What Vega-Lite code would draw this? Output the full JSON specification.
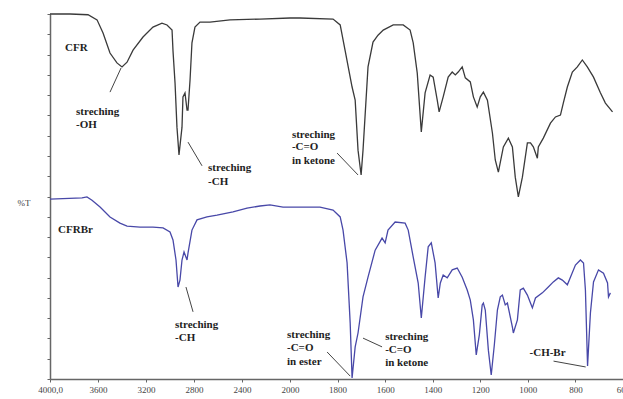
{
  "$schema": "https://vega.github.io/schema/vega-lite/v6.json",
  "width": 573,
  "height": 365,
  "autosize": "none",
  "padding": {"left": 50, "top": 14, "right": 0, "bottom": 20},
  "background": "white",
  "config": {"view": {"stroke": null}},
  "datasets": {
    "spectra": [
      {"wn": 4000, "T": 100, "s": "CFR"}, {"wn": 3833, "T": 100, "s": "CFR"}, {"wn": 3683, "T": 99.8, "s": "CFR"},
      {"wn": 3608, "T": 98.4, "s": "CFR"}, {"wn": 3558, "T": 94.8, "s": "CFR"}, {"wn": 3500, "T": 89.3, "s": "CFR"},
      {"wn": 3442, "T": 86.6, "s": "CFR"}, {"wn": 3400, "T": 85.5, "s": "CFR"}, {"wn": 3358, "T": 86.8, "s": "CFR"},
      {"wn": 3308, "T": 90.1, "s": "CFR"}, {"wn": 3225, "T": 93.7, "s": "CFR"}, {"wn": 3142, "T": 96.4, "s": "CFR"},
      {"wn": 3067, "T": 97.5, "s": "CFR"}, {"wn": 3025, "T": 97.0, "s": "CFR"}, {"wn": 2983, "T": 95.6, "s": "CFR"},
      {"wn": 2975, "T": 89.9, "s": "CFR"}, {"wn": 2958, "T": 81.1, "s": "CFR"}, {"wn": 2942, "T": 69.0, "s": "CFR"},
      {"wn": 2925, "T": 61.4, "s": "CFR"}, {"wn": 2900, "T": 69.0, "s": "CFR"}, {"wn": 2892, "T": 77.3, "s": "CFR"},
      {"wn": 2875, "T": 78.4, "s": "CFR"}, {"wn": 2858, "T": 73.7, "s": "CFR"}, {"wn": 2850, "T": 73.7, "s": "CFR"},
      {"wn": 2833, "T": 81.9, "s": "CFR"}, {"wn": 2817, "T": 92.1, "s": "CFR"}, {"wn": 2792, "T": 96.4, "s": "CFR"},
      {"wn": 2750, "T": 97.8, "s": "CFR"}, {"wn": 2667, "T": 97.8, "s": "CFR"}, {"wn": 2500, "T": 98.4, "s": "CFR"},
      {"wn": 2250, "T": 98.6, "s": "CFR"}, {"wn": 2000, "T": 98.9, "s": "CFR"}, {"wn": 1958, "T": 98.9, "s": "CFR"},
      {"wn": 1819, "T": 98.6, "s": "CFR"}, {"wn": 1789, "T": 97.0, "s": "CFR"}, {"wn": 1768, "T": 89.9, "s": "CFR"},
      {"wn": 1739, "T": 80.0, "s": "CFR"}, {"wn": 1726, "T": 76.4, "s": "CFR"}, {"wn": 1714, "T": 62.7, "s": "CFR"},
      {"wn": 1701, "T": 55.9, "s": "CFR"}, {"wn": 1693, "T": 62.7, "s": "CFR"}, {"wn": 1672, "T": 85.5, "s": "CFR"},
      {"wn": 1651, "T": 92.3, "s": "CFR"}, {"wn": 1630, "T": 94.2, "s": "CFR"}, {"wn": 1608, "T": 95.6, "s": "CFR"},
      {"wn": 1566, "T": 97.0, "s": "CFR"}, {"wn": 1524, "T": 97.0, "s": "CFR"}, {"wn": 1495, "T": 95.6, "s": "CFR"},
      {"wn": 1482, "T": 92.1, "s": "CFR"}, {"wn": 1465, "T": 83.8, "s": "CFR"}, {"wn": 1448, "T": 67.7, "s": "CFR"},
      {"wn": 1432, "T": 78.4, "s": "CFR"}, {"wn": 1411, "T": 83.3, "s": "CFR"}, {"wn": 1398, "T": 82.7, "s": "CFR"},
      {"wn": 1381, "T": 76.4, "s": "CFR"}, {"wn": 1373, "T": 73.2, "s": "CFR"}, {"wn": 1356, "T": 77.3, "s": "CFR"},
      {"wn": 1335, "T": 82.7, "s": "CFR"}, {"wn": 1318, "T": 84.1, "s": "CFR"}, {"wn": 1305, "T": 83.3, "s": "CFR"},
      {"wn": 1293, "T": 84.1, "s": "CFR"}, {"wn": 1276, "T": 85.5, "s": "CFR"}, {"wn": 1263, "T": 82.5, "s": "CFR"},
      {"wn": 1242, "T": 81.4, "s": "CFR"}, {"wn": 1229, "T": 77.3, "s": "CFR"}, {"wn": 1213, "T": 74.5, "s": "CFR"},
      {"wn": 1200, "T": 77.3, "s": "CFR"}, {"wn": 1187, "T": 78.6, "s": "CFR"}, {"wn": 1170, "T": 76.4, "s": "CFR"},
      {"wn": 1149, "T": 67.4, "s": "CFR"}, {"wn": 1137, "T": 60.0, "s": "CFR"}, {"wn": 1124, "T": 56.7, "s": "CFR"},
      {"wn": 1103, "T": 63.6, "s": "CFR"}, {"wn": 1082, "T": 66.0, "s": "CFR"}, {"wn": 1065, "T": 63.6, "s": "CFR"},
      {"wn": 1053, "T": 55.3, "s": "CFR"}, {"wn": 1040, "T": 49.9, "s": "CFR"}, {"wn": 1023, "T": 55.3, "s": "CFR"},
      {"wn": 1002, "T": 64.7, "s": "CFR"}, {"wn": 989, "T": 64.7, "s": "CFR"}, {"wn": 977, "T": 63.6, "s": "CFR"},
      {"wn": 960, "T": 60.5, "s": "CFR"}, {"wn": 956, "T": 63.6, "s": "CFR"}, {"wn": 935, "T": 66.0, "s": "CFR"},
      {"wn": 905, "T": 70.1, "s": "CFR"}, {"wn": 884, "T": 71.8, "s": "CFR"}, {"wn": 863, "T": 72.3, "s": "CFR"},
      {"wn": 851, "T": 75.6, "s": "CFR"}, {"wn": 834, "T": 80.0, "s": "CFR"}, {"wn": 813, "T": 84.1, "s": "CFR"},
      {"wn": 792, "T": 85.5, "s": "CFR"}, {"wn": 771, "T": 87.4, "s": "CFR"}, {"wn": 750, "T": 85.5, "s": "CFR"},
      {"wn": 724, "T": 82.7, "s": "CFR"}, {"wn": 695, "T": 78.4, "s": "CFR"}, {"wn": 674, "T": 75.6, "s": "CFR"},
      {"wn": 644, "T": 73.2, "s": "CFR"},

      {"wn": 4000, "T": 49.3, "s": "CFRBr"}, {"wn": 3733, "T": 49.6, "s": "CFRBr"}, {"wn": 3692, "T": 49.9, "s": "CFRBr"},
      {"wn": 3650, "T": 49.0, "s": "CFRBr"}, {"wn": 3583, "T": 47.1, "s": "CFRBr"}, {"wn": 3500, "T": 44.4, "s": "CFRBr"},
      {"wn": 3417, "T": 42.7, "s": "CFRBr"}, {"wn": 3358, "T": 41.9, "s": "CFRBr"}, {"wn": 3250, "T": 41.6, "s": "CFRBr"},
      {"wn": 3142, "T": 41.6, "s": "CFRBr"}, {"wn": 3058, "T": 41.4, "s": "CFRBr"}, {"wn": 3000, "T": 40.3, "s": "CFRBr"},
      {"wn": 2975, "T": 38.1, "s": "CFRBr"}, {"wn": 2950, "T": 32.6, "s": "CFRBr"}, {"wn": 2933, "T": 25.2, "s": "CFRBr"},
      {"wn": 2917, "T": 27.1, "s": "CFRBr"}, {"wn": 2900, "T": 32.6, "s": "CFRBr"}, {"wn": 2883, "T": 34.8, "s": "CFRBr"},
      {"wn": 2858, "T": 32.6, "s": "CFRBr"}, {"wn": 2850, "T": 34.5, "s": "CFRBr"}, {"wn": 2817, "T": 40.8, "s": "CFRBr"},
      {"wn": 2775, "T": 43.6, "s": "CFRBr"}, {"wn": 2692, "T": 44.4, "s": "CFRBr"}, {"wn": 2608, "T": 44.9, "s": "CFRBr"},
      {"wn": 2475, "T": 45.8, "s": "CFRBr"}, {"wn": 2358, "T": 46.8, "s": "CFRBr"}, {"wn": 2250, "T": 47.4, "s": "CFRBr"},
      {"wn": 2167, "T": 47.7, "s": "CFRBr"}, {"wn": 2058, "T": 47.1, "s": "CFRBr"}, {"wn": 1958, "T": 47.1, "s": "CFRBr"},
      {"wn": 1874, "T": 47.1, "s": "CFRBr"}, {"wn": 1819, "T": 46.3, "s": "CFRBr"}, {"wn": 1789, "T": 44.4, "s": "CFRBr"},
      {"wn": 1777, "T": 40.8, "s": "CFRBr"}, {"wn": 1760, "T": 31.8, "s": "CFRBr"}, {"wn": 1747, "T": 15.3, "s": "CFRBr"},
      {"wn": 1739, "T": 0.3, "s": "CFRBr"}, {"wn": 1726, "T": 8.8, "s": "CFRBr"}, {"wn": 1714, "T": 12.6, "s": "CFRBr"},
      {"wn": 1693, "T": 22.5, "s": "CFRBr"}, {"wn": 1672, "T": 27.9, "s": "CFRBr"}, {"wn": 1642, "T": 35.3, "s": "CFRBr"},
      {"wn": 1613, "T": 38.6, "s": "CFRBr"}, {"wn": 1600, "T": 37.3, "s": "CFRBr"}, {"wn": 1588, "T": 40.8, "s": "CFRBr"},
      {"wn": 1558, "T": 43.0, "s": "CFRBr"}, {"wn": 1516, "T": 42.7, "s": "CFRBr"}, {"wn": 1503, "T": 40.8, "s": "CFRBr"},
      {"wn": 1482, "T": 33.4, "s": "CFRBr"}, {"wn": 1461, "T": 26.3, "s": "CFRBr"}, {"wn": 1448, "T": 16.7, "s": "CFRBr"},
      {"wn": 1432, "T": 27.9, "s": "CFRBr"}, {"wn": 1419, "T": 36.2, "s": "CFRBr"}, {"wn": 1406, "T": 37.3, "s": "CFRBr"},
      {"wn": 1390, "T": 31.8, "s": "CFRBr"}, {"wn": 1377, "T": 22.2, "s": "CFRBr"}, {"wn": 1368, "T": 26.3, "s": "CFRBr"},
      {"wn": 1356, "T": 28.5, "s": "CFRBr"}, {"wn": 1339, "T": 27.7, "s": "CFRBr"}, {"wn": 1318, "T": 29.9, "s": "CFRBr"},
      {"wn": 1297, "T": 30.4, "s": "CFRBr"}, {"wn": 1276, "T": 27.9, "s": "CFRBr"}, {"wn": 1255, "T": 24.4, "s": "CFRBr"},
      {"wn": 1242, "T": 21.6, "s": "CFRBr"}, {"wn": 1229, "T": 16.2, "s": "CFRBr"}, {"wn": 1217, "T": 6.6, "s": "CFRBr"},
      {"wn": 1204, "T": 12.1, "s": "CFRBr"}, {"wn": 1192, "T": 20.3, "s": "CFRBr"}, {"wn": 1187, "T": 20.8, "s": "CFRBr"},
      {"wn": 1179, "T": 18.9, "s": "CFRBr"}, {"wn": 1166, "T": 7.9, "s": "CFRBr"}, {"wn": 1154, "T": 1.1, "s": "CFRBr"},
      {"wn": 1141, "T": 9.3, "s": "CFRBr"}, {"wn": 1128, "T": 18.9, "s": "CFRBr"}, {"wn": 1116, "T": 22.5, "s": "CFRBr"},
      {"wn": 1107, "T": 23.0, "s": "CFRBr"}, {"wn": 1095, "T": 20.3, "s": "CFRBr"}, {"wn": 1086, "T": 20.8, "s": "CFRBr"},
      {"wn": 1065, "T": 14.2, "s": "CFRBr"}, {"wn": 1061, "T": 12.6, "s": "CFRBr"}, {"wn": 1044, "T": 16.2, "s": "CFRBr"},
      {"wn": 1032, "T": 24.4, "s": "CFRBr"}, {"wn": 1019, "T": 24.9, "s": "CFRBr"}, {"wn": 1002, "T": 23.0, "s": "CFRBr"},
      {"wn": 989, "T": 20.8, "s": "CFRBr"}, {"wn": 981, "T": 19.5, "s": "CFRBr"}, {"wn": 968, "T": 22.2, "s": "CFRBr"},
      {"wn": 939, "T": 23.6, "s": "CFRBr"}, {"wn": 914, "T": 25.2, "s": "CFRBr"}, {"wn": 893, "T": 26.6, "s": "CFRBr"},
      {"wn": 872, "T": 27.7, "s": "CFRBr"}, {"wn": 855, "T": 27.1, "s": "CFRBr"}, {"wn": 834, "T": 25.8, "s": "CFRBr"},
      {"wn": 821, "T": 27.9, "s": "CFRBr"}, {"wn": 800, "T": 31.2, "s": "CFRBr"}, {"wn": 779, "T": 32.6, "s": "CFRBr"},
      {"wn": 766, "T": 31.8, "s": "CFRBr"}, {"wn": 758, "T": 24.4, "s": "CFRBr"}, {"wn": 749, "T": 3.6, "s": "CFRBr"},
      {"wn": 737, "T": 18.1, "s": "CFRBr"}, {"wn": 724, "T": 26.6, "s": "CFRBr"}, {"wn": 703, "T": 29.9, "s": "CFRBr"},
      {"wn": 682, "T": 29.0, "s": "CFRBr"}, {"wn": 665, "T": 26.3, "s": "CFRBr"}, {"wn": 661, "T": 22.5, "s": "CFRBr"},
      {"wn": 653, "T": 23.6, "s": "CFRBr"}
    ],
    "labels": [
      {"wn": 3875, "T": 90.7, "text": "CFR"},
      {"wn": 3783, "T": 73.2, "text": "streching"},
      {"wn": 3783, "T": 69.6, "text": "-OH"},
      {"wn": 2683, "T": 57.8, "text": "streching"},
      {"wn": 2683, "T": 54.0, "text": "-CH"},
      {"wn": 1992, "T": 66.8, "text": "streching"},
      {"wn": 1992, "T": 63.5, "text": "-C=O"},
      {"wn": 1992, "T": 59.7, "text": "in ketone"},
      {"wn": 3933, "T": 40.8, "text": "CFRBr"},
      {"wn": 2958, "T": 14.8, "text": "streching"},
      {"wn": 2958, "T": 11.2, "text": "-CH"},
      {"wn": 2025, "T": 12.1, "text": "streching"},
      {"wn": 2025, "T": 8.5, "text": "-C=O"},
      {"wn": 2025, "T": 4.7, "text": "in ester"},
      {"wn": 1600, "T": 11.5, "text": "streching"},
      {"wn": 1600, "T": 7.9, "text": "-C=O"},
      {"wn": 1600, "T": 4.4, "text": "in ketone"},
      {"wn": 993, "T": 7.1, "text": "-CH-Br"}
    ],
    "leaders": [
      {"wn": 3500, "T": 78.6, "wn2": 3408, "T2": 85.2},
      {"wn": 2850, "T": 64.9, "wn2": 2733, "T2": 58.4},
      {"wn": 1802, "T": 61.9, "wn2": 1714, "T2": 55.9},
      {"wn": 2867, "T": 25.2, "wn2": 2808, "T2": 18.4},
      {"wn": 1844, "T": 7.4, "wn2": 1747, "T2": 0.8},
      {"wn": 1693, "T": 11.2, "wn2": 1613, "T2": 8.8},
      {"wn": 892, "T": 4.9, "wn2": 757, "T2": 3.3}
    ]
  },
  "encoding": {
    "x": {
      "field": "wn",
      "type": "quantitative",
      "scale": {"domain": [4000, 2000, 600], "range": [0, 240, 573], "nice": false, "zero": false},
      "axis": {
        "values": [4000, 3600, 3200, 2800, 2400, 2000, 1800, 1600, 1400, 1200, 1000, 800, 600],
        "format": "d",
        "labelExpr": "datum.value == 4000 ? '4000,0' : datum.label",
        "labelFont": "Liberation Serif",
        "labelFontSize": 9,
        "labelColor": "#444444",
        "labelPadding": 3,
        "labelFlush": false,
        "labelOverlap": false,
        "tickSize": 3,
        "tickColor": "#666666",
        "domainColor": "#666666",
        "domainWidth": 1.5,
        "grid": false,
        "title": null
      }
    },
    "y": {
      "field": "T",
      "type": "quantitative",
      "scale": {"domain": [0, 100], "nice": false, "zero": false},
      "axis": {
        "values": [0, 5.556, 11.111, 16.667, 22.222, 27.778, 33.333, 38.889, 44.444, 50, 55.556, 61.111, 66.667, 72.222, 77.778, 83.333, 88.889, 94.444, 100],
        "labels": false,
        "tickSize": 3,
        "tickColor": "#666666",
        "domainColor": "#666666",
        "domainWidth": 1.5,
        "grid": false,
        "title": "%T",
        "titleAngle": 0,
        "titleFont": "Liberation Serif",
        "titleFontSize": 9,
        "titleFontWeight": "normal",
        "titleColor": "#444444",
        "titleX": -33,
        "titleY": 188,
        "titleAlign": "left",
        "titleBaseline": "middle"
      }
    }
  },
  "layer": [
    {
      "data": {"name": "spectra"},
      "mark": {"type": "line", "strokeWidth": 1.3, "interpolate": "linear"},
      "encoding": {
        "color": {"field": "s", "type": "nominal", "scale": {"domain": ["CFR", "CFRBr"], "range": ["#3a3a3a", "#4848a8"]}, "legend": null}
      }
    },
    {
      "data": {"name": "leaders"},
      "mark": {"type": "rule", "color": "#444444", "strokeWidth": 1},
      "encoding": {
        "x2": {"field": "wn2"},
        "y2": {"field": "T2"}
      }
    },
    {
      "data": {"name": "labels"},
      "mark": {"type": "text", "align": "left", "baseline": "middle", "font": "Liberation Serif", "fontWeight": "bold", "fontSize": 11, "color": "#1e1e1e"},
      "encoding": {
        "text": {"field": "text", "type": "nominal"}
      }
    }
  ]
}
